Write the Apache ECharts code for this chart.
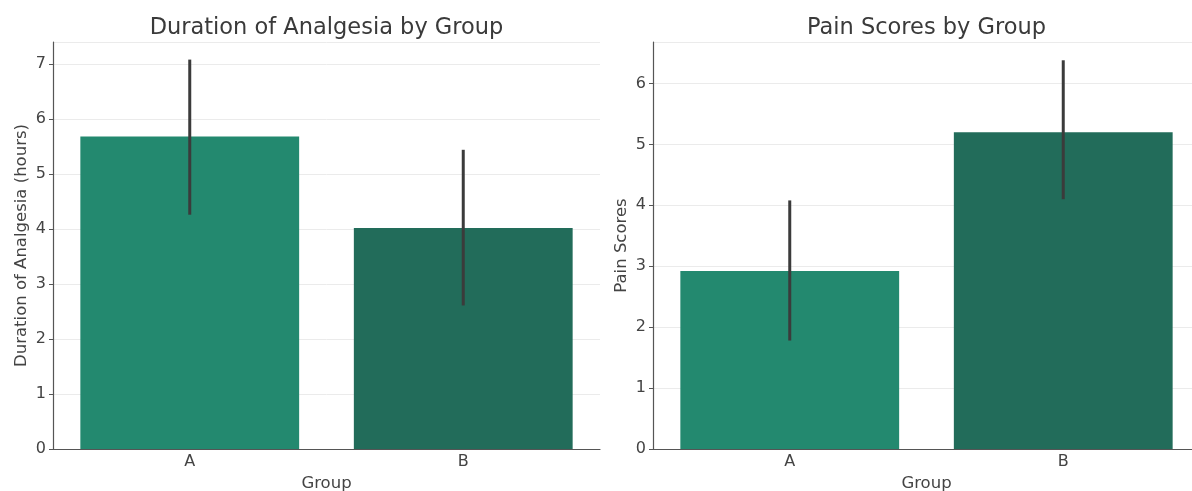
<!DOCTYPE html>
<html>
<head>
<meta charset="utf-8">
<script src="https://cdn.jsdelivr.net/npm/echarts@6/dist/echarts.min.js"></script>
<style>
html,body{margin:0;padding:0;background:#fff;}
#chart{width:1192px;height:491px;}
</style>
</head>
<body>
<div id="chart"></div>
<script>
const categories = ['A', 'B'];
const durationMeans = [5.68, 4.02];
const durationLower = [4.26, 2.61];
const durationUpper = [7.08, 5.44];
const painMeans = [2.92, 5.20];
const painLower = [1.78, 4.10];
const painUpper = [4.08, 6.38];
const barColors = ['#23896f', '#226c5a'];

const FONT = 'DejaVu Sans';
const chart = echarts.init(document.getElementById('chart'));

function errorSeries(idx, lower, upper) {
  return {
    type: 'custom',
    xAxisIndex: idx, yAxisIndex: idx,
    z: 10,
    data: categories.map((c, i) => [i, lower[i], upper[i]]),
    renderItem: function (params, api) {
      const lo = api.coord([api.value(0), api.value(1)]);
      const hi = api.coord([api.value(0), api.value(2)]);
      return {
        type: 'line',
        shape: { x1: lo[0], y1: lo[1], x2: hi[0], y2: hi[1] },
        style: { stroke: '#3b3b3b', lineWidth: 3 }
      };
    }
  };
}

function barSeries(idx, values) {
  return {
    type: 'bar',
    xAxisIndex: idx, yAxisIndex: idx,
    barWidth: '80%',
    data: values.map((v, i) => ({ value: v, itemStyle: { color: barColors[i] } }))
  };
}

function xAxis(idx) {
  return {
    type: 'category', gridIndex: idx, data: categories,
    name: 'Group', nameLocation: 'middle', nameGap: 26,
    nameTextStyle: { fontFamily: FONT, fontSize: 16.5, color: '#444' },
    axisLine: { lineStyle: { color: '#555', width: 1.2 } },
    axisTick: { alignWithLabel: true, length: 4, lineStyle: { color: '#555' } },
    axisLabel: { fontFamily: FONT, fontSize: 16, color: '#444', margin: 5 }
  };
}

function yAxis(idx, max, name) {
  return {
    type: 'value', gridIndex: idx, min: 0, max: max, interval: 1,
    name: name, nameLocation: 'middle', nameGap: 23,
    nameTextStyle: { fontFamily: FONT, fontSize: 16.5, color: '#444' },
    axisLine: { show: true, lineStyle: { color: '#555', width: 1.2 } },
    axisTick: { show: true, length: 4, lineStyle: { color: '#555' } },
    axisLabel: { fontFamily: FONT, fontSize: 16, color: '#444', margin: 7,
      showMaxLabel: false },
    splitLine: { show: true, lineStyle: { color: '#ebebeb', width: 1 } }
  };
}

chart.setOption({
  animation: false,
  title: [
    { text: 'Duration of Analgesia by Group', left: 321.5, top: 12, textAlign: 'center',
      textStyle: { fontFamily: FONT, fontSize: 22.5, fontWeight: 'normal', color: '#3a3a3a' } },
    { text: 'Pain Scores by Group', left: 921.5, top: 12, textAlign: 'center',
      textStyle: { fontFamily: FONT, fontSize: 22.5, fontWeight: 'normal', color: '#3a3a3a' } }
  ],
  grid: [
    { left: 53, top: 42, width: 547, height: 407, outerBoundsMode: 'none', containLabel: false },
    { left: 653, top: 42, width: 547, height: 407, outerBoundsMode: 'none', containLabel: false }
  ],
  xAxis: [xAxis(0), xAxis(1)],
  yAxis: [yAxis(0, 7.4, 'Duration of Analgesia (hours)'), yAxis(1, 6.68, 'Pain Scores')],
  series: [
    barSeries(0, durationMeans),
    errorSeries(0, durationLower, durationUpper),
    barSeries(1, painMeans),
    errorSeries(1, painLower, painUpper)
  ]
});
</script>
</body>
</html>
